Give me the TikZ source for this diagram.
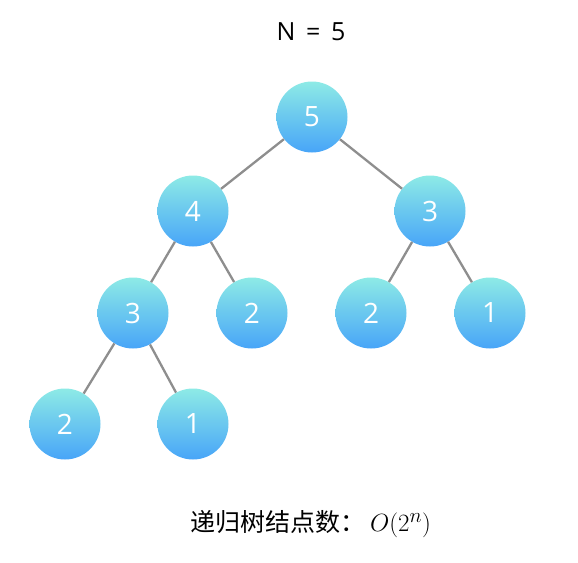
\documentclass[tikz,border=0pt]{standalone}
\usepackage{fontspec}
\setmainfont{Open Sans}
\newfontfamily\cjk{Noto Sans CJK SC}
\begin{document}
\begin{tikzpicture}[x=1pt,y=-1pt,
  tnode/.style={circle, minimum size=71pt, inner sep=0pt, top color=tcyan, bottom color=tblue, draw=none, text=white, font=\fontsize{28}{28}\selectfont},
  tedge/.style={draw=tgray, line width=2.3pt}]
\definecolor{tcyan}{HTML}{8EEAE6}
\definecolor{tblue}{HTML}{47A5F8}
\definecolor{tgray}{HTML}{8E8E8E}
\useasboundingbox (0,0) rectangle (578,562);
\node[font=\fontsize{25}{25}\selectfont] (title) at (311,32) {N\ \,=\ \,5};
\node[tnode] (n5) at (312,117) {5};
\node[tnode] (n4) at (193,211) {4};
\node[tnode] (n3r) at (430,211) {3};
\node[tnode] (n3l) at (133,313) {3};
\node[tnode] (n2m) at (252,313) {2};
\node[tnode] (n2r) at (371,313) {2};
\node[tnode] (n1r) at (490,313) {1};
\node[tnode] (n2b) at (65,424) {2};
\node[tnode] (n1b) at (193,424) {1};
\node[font=\fontsize{25}{25}\selectfont] (cap) at (311,524) {\cjk 递归树结点数：\,\fontsize{28}{28}\selectfont$O(2^n)$};
\path[tedge] (n5) -- (n4);
\path[tedge] (n5) -- (n3r);
\path[tedge] (n4) -- (n3l);
\path[tedge] (n4) -- (n2m);
\path[tedge] (n3r) -- (n2r);
\path[tedge] (n3r) -- (n1r);
\path[tedge] (n3l) -- (n2b);
\path[tedge] (n3l) -- (n1b);
\end{tikzpicture}
\end{document}
